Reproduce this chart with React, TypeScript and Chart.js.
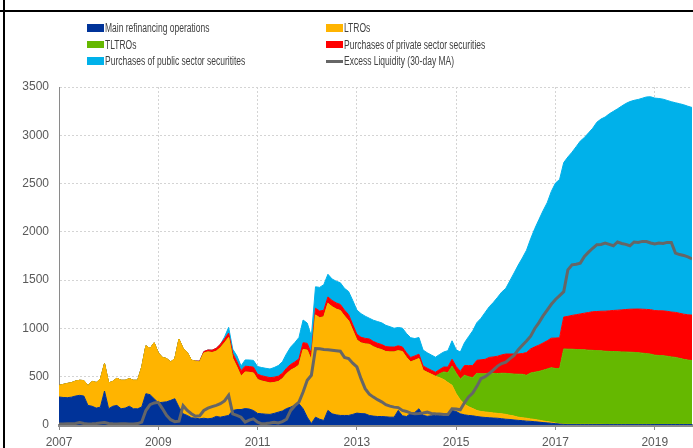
import React, { useEffect, useRef } from 'react';
import { Chart, registerables } from 'chart.js';

Chart.register(...registerables);

// Monthly observations, Jan 2007 .. Oct 2019 (EUR bn)
const YEARS = [2007, 2008, 2009, 2010, 2011, 2012, 2013, 2014, 2015, 2016, 2017, 2018, 2019];
const MONTHS = [0, 1, 2, 3, 4, 5, 6, 7, 8, 9, 10, 11];
const TICK_YEARS = [2007, 2009, 2011, 2013, 2015, 2017, 2019];
const Y_TICKS = [0, 500, 1000, 1500, 2000, 2500, 3000, 3500];

const mro = [
  290, 285, 283, 288, 300, 307, 300, 203, 194, 175, 185, 352,
  168, 194, 203, 168, 175, 194, 168, 168, 186, 324, 314, 272,
  230, 235, 240, 255, 272, 185, 116, 99, 75, 70, 64, 70,
  64, 70, 89, 81, 90, 99, 150, 160, 160, 170, 165, 150,
  120, 116, 112, 110, 120, 133, 145, 170, 185, 205, 220, 168,
  81, 15, 81, 60, 47, 151, 116, 105, 99, 99, 99, 110,
  123, 118, 116, 99, 92, 88, 88, 85, 81, 81, 151, 95,
  88, 120, 130, 168, 100, 90, 95, 99, 99, 99, 120, 151,
  140, 116, 105, 99, 95, 88, 82, 78, 75, 72, 70, 65,
  60, 57, 52, 48, 45, 40, 38, 34, 30, 25, 22, 18,
  14, 10, 6, 4, 4, 4, 4, 4, 4, 4, 4, 4,
  4, 4, 4, 4, 4, 4, 4, 4, 4, 4, 4, 4,
  5, 5, 5, 5, 5, 5, 5, 5, 5, 5,
];

const ltro = [
  120, 135, 147, 150, 155, 156, 160, 204, 258, 265, 290, 284,
  267, 258, 281, 295, 288, 286, 295, 295, 415, 496, 478, 579,
  517, 465, 448, 398, 416, 704, 676, 652, 596, 590, 589, 675,
  693, 680, 675, 719, 760, 808, 540, 441, 344, 379, 380, 389,
  350, 339, 333, 325, 320, 317, 335, 360, 382, 385, 400, 614,
  694, 656, 1058, 1050, 1073, 1109, 1109, 1095, 1086, 1029, 981, 870,
  757, 732, 724, 736, 718, 704, 692, 675, 676, 676, 619, 665,
  612, 533, 540, 520, 467, 455, 430, 405, 391, 371, 320, 260,
  184, 144, 110, 91, 75, 62, 58, 57, 55, 53, 50, 51,
  50, 43, 40, 33, 30, 30, 25, 23, 20, 17, 13, 11,
  6, 2, 2, 3, 3, 3, 3, 3, 3, 3, 3, 3,
  2, 2, 2, 2, 2, 2, 2, 2, 2, 2, 2, 2,
  1, 1, 1, 1, 1, 1, 1, 1, 1, 1,
];

const tltro = [
  0, 0, 0, 0, 0, 0, 0, 0, 0, 0, 0, 0,
  0, 0, 0, 0, 0, 0, 0, 0, 0, 0, 0, 0,
  0, 0, 0, 0, 0, 0, 0, 0, 0, 0, 0, 0,
  0, 0, 0, 0, 0, 0, 0, 0, 0, 0, 0, 0,
  0, 0, 0, 0, 0, 0, 0, 0, 0, 0, 0, 0,
  0, 0, 0, 0, 0, 0, 0, 0, 0, 0, 0, 0,
  0, 0, 0, 0, 0, 0, 0, 0, 0, 0, 0, 0,
  0, 0, 0, 0, 0, 0, 0, 0, 40, 80, 100, 200,
  212, 215, 300, 310, 320, 385, 390, 395, 410, 410, 412, 420,
  425, 430, 435, 445, 450, 445, 475, 490, 505, 525, 545, 565,
  565, 572, 780, 778, 778, 775, 773, 771, 768, 766, 763, 761,
  758, 756, 755, 753, 751, 750, 748, 746, 743, 738, 733, 728,
  717, 714, 712, 706, 699, 694, 684, 674, 666, 662,
];

const privateSec = [
  0, 0, 0, 0, 0, 0, 0, 0, 0, 0, 0, 0,
  0, 0, 0, 0, 0, 0, 0, 0, 0, 0, 0, 0,
  0, 0, 0, 0, 0, 0, 0, 0, 0, 3, 8, 15,
  20, 25, 30, 35, 40, 45, 50, 55, 58, 60, 60, 60,
  55, 55, 55, 55, 55, 55, 55, 58, 60, 63, 66, 70,
  70, 68, 70, 70, 68, 66, 65, 64, 63, 62, 62, 60,
  60, 58, 57, 56, 55, 54, 53, 52, 51, 50, 50, 48,
  47, 46, 45, 45, 44, 43, 42, 42, 45, 50, 60, 70,
  70, 80, 100, 115, 125, 135, 145, 150, 160, 170, 180, 190,
  200, 205, 208, 210, 215, 235, 250, 262, 272, 282, 292, 305,
  315, 320, 330, 340, 350, 360, 370, 380, 390, 400, 405, 410,
  415, 420, 425, 430, 435, 440, 445, 448, 452, 455, 458, 460,
  462, 463, 464, 465, 465, 466, 467, 468, 469, 470,
];

const publicSec = [
  0, 0, 0, 0, 0, 0, 0, 0, 0, 0, 0, 0,
  0, 0, 0, 0, 0, 0, 0, 0, 0, 0, 0, 0,
  0, 0, 0, 0, 0, 0, 0, 0, 0, 0, 0, 0,
  0, 0, 0, 0, 20, 59, 45, 60, 50, 65, 68, 70,
  80, 85, 87, 90, 100, 110, 120, 150, 180, 200, 220, 235,
  210, 180, 222, 245, 265, 235, 222, 225, 225, 225, 240, 250,
  250, 245, 230, 215, 220, 225, 225, 220, 210, 195, 190, 195,
  200, 205, 180, 173, 165, 160, 158, 156, 156, 156, 170, 191,
  173, 200, 236, 300, 360, 390, 430, 486, 525, 565, 610, 650,
  680, 760, 840, 920, 990, 1060, 1140, 1225, 1300, 1370, 1430, 1520,
  1605, 1639, 1600, 1650, 1690, 1740, 1790, 1820, 1860, 1900, 1960, 1990,
  2010, 2040, 2062, 2085, 2110, 2133, 2150, 2162, 2170, 2185, 2200, 2205,
  2200, 2198, 2192, 2184, 2178, 2171, 2170, 2168, 2160, 2150,
];

const excessLiquidity = [
  10, 10, 12, 12, 15, 25, 15, 10, 12, 15, 20, 25,
  15, 12, 10, 12, 12, 10, 10, 15, 30, 150, 210, 228,
  235, 170, 100, 55, 35, 40, 200, 150, 116, 90, 95, 150,
  175, 190, 203, 220, 250, 307, 116, 100, 81, 29, 50, 64,
  29, 12, 15, 20, 29, 22, 35, 60, 151, 200, 237, 341,
  463, 515, 792, 790, 782, 780, 775, 770, 764, 700, 688, 640,
  601, 480, 376, 320, 289, 262, 240, 210, 195, 185, 180, 151,
  140, 123, 116, 120, 125, 133, 120, 116, 113, 110, 110, 168,
  165, 158, 230, 290, 330, 400, 480, 500, 532, 570, 610, 636,
  650, 688, 720, 780, 826, 870, 920, 1000, 1060, 1130, 1190, 1250,
  1300, 1340, 1381, 1607, 1659, 1665, 1676, 1745, 1790, 1830, 1867, 1870,
  1884, 1870, 1856, 1895, 1880, 1870, 1856, 1895, 1890, 1901, 1900, 1885,
  1874, 1884, 1880, 1891, 1891, 1780, 1765, 1756, 1740, 1721,
];

const SERIES = [
  { label: 'Main refinancing operations', data: mro, color: '#003399' },
  { label: 'LTROs', data: ltro, color: '#FFB400' },
  { label: 'TLTROs', data: tltro, color: '#65B800' },
  { label: 'Purchases of private sector securities', data: privateSec, color: '#FF0000' },
  { label: 'Purchases of public sector securitites', data: publicSec, color: '#00B1EA' },
];
const LINE_LABEL = 'Excess Liquidity (30-day MA)';
const LINE_COLOR = '#666666';

const TICK_FONT = { family: "'Liberation Sans', Arial, sans-serif", size: 12 };
const TICK_COLOR = '#595959';
const GRID_COLOR = '#d4d4d4';
const AXIS_COLOR = '#8a8a8a';

const LEGEND_ITEMS = [
  { label: SERIES[0].label, color: SERIES[0].color, col: 0, row: 0, line: false },
  { label: SERIES[1].label, color: SERIES[1].color, col: 1, row: 0, line: false },
  { label: SERIES[2].label, color: SERIES[2].color, col: 0, row: 1, line: false },
  { label: SERIES[3].label, color: SERIES[3].color, col: 1, row: 1, line: false },
  { label: SERIES[4].label, color: SERIES[4].color, col: 0, row: 2, line: false },
  { label: LINE_LABEL, color: LINE_COLOR, col: 1, row: 2, line: true },
];

export default function App() {
  const ref = useRef<HTMLCanvasElement>(null);

  useEffect(() => {
    document.body.style.margin = '0';
    const canvas = ref.current;
    if (!canvas) return;
    const labels: number[] = [];
    YEARS.forEach((y) => MONTHS.forEach((m) => labels.push(y + m / 12)));
    labels.length = mro.length;

    const datasets: any[] = SERIES.map((s, i) => ({
      type: 'line',
      label: s.label,
      data: s.data,
      backgroundColor: s.color,
      borderColor: s.color,
      borderWidth: 1,
      pointRadius: 0,
      tension: 0,
      fill: i === 0 ? 'origin' : '-1',
      stack: 'ops',
      order: 1,
    }));
    datasets.push({
      type: 'line',
      label: LINE_LABEL,
      data: excessLiquidity,
      borderColor: LINE_COLOR,
      backgroundColor: LINE_COLOR,
      borderWidth: 3,
      pointRadius: 0,
      tension: 0,
      fill: false,
      stack: 'el',
      order: 0,
    });

    const chart = new Chart(canvas, {
      type: 'line',
      data: { labels, datasets },
      options: {
        animation: false,
        responsive: false,
        events: [],
        layout: { padding: { top: 87, right: 1, left: 0, bottom: 0 } },
        plugins: { legend: { display: false }, tooltip: { enabled: false } },
        scales: {
          x: {
            type: 'linear',
            min: 2007,
            max: labels[labels.length - 1],
            afterBuildTicks: (scale: any) => {
              scale.ticks = TICK_YEARS.map((v) => ({ value: v }));
            },
            afterFit: (scale: any) => {
              scale.height = 23;
            },
            ticks: {
              callback: (v: any) => String(v),
              color: TICK_COLOR,
              font: TICK_FONT,
              padding: 5,
              maxRotation: 0,
              autoSkip: false,
            },
            grid: {
              color: GRID_COLOR,
              lineWidth: 1,
              drawTicks: true,
              tickLength: 5,
              tickColor: AXIS_COLOR,
              tickWidth: 1,
              tickBorderDash: [],
            },
            border: { display: true, color: AXIS_COLOR, width: 3, dash: [2, 2] },
          },
          y: {
            type: 'linear',
            stacked: true,
            min: 0,
            max: 3500,
            afterBuildTicks: (scale: any) => {
              scale.ticks = Y_TICKS.map((v) => ({ value: v }));
            },
            afterFit: (scale: any) => {
              scale.width = 59;
            },
            ticks: {
              callback: (v: any) => String(v),
              color: TICK_COLOR,
              font: TICK_FONT,
              padding: 10,
            },
            grid: { color: GRID_COLOR, lineWidth: 1, drawTicks: false },
            border: { display: true, color: AXIS_COLOR, width: 1, dash: [2, 2] },
          },
        },
      },
    });
    return () => chart.destroy();
  }, []);

  const legendFont = "'Liberation Sans', Arial, sans-serif";
  const rowY = [28, 44.5, 61];
  const colX = [87, 326];

  return (
    <div style={{ position: 'fixed', left: 0, top: 0, width: 693, height: 448, background: '#ffffff', overflow: 'hidden' }}>
      <canvas ref={ref} width={693} height={448} style={{ position: 'absolute', left: 0, top: 0, width: 693, height: 448 }} />
      <div style={{ position: 'absolute', left: 3, top: 0, width: 2, height: 448, background: '#000' }} />
      <div style={{ position: 'absolute', left: 0, top: 9.5, width: 693, height: 2, background: '#000' }} />
      {LEGEND_ITEMS.map((it) => (
        <div key={it.label} style={{ position: 'absolute', left: colX[it.col], top: rowY[it.row] - 8, height: 16, display: 'flex', alignItems: 'center', whiteSpace: 'nowrap' }}>
          <div style={{ width: 17, height: it.line ? 3 : 7.5, background: it.color, marginRight: 1, flex: 'none' }} />
          <span style={{ fontFamily: legendFont, fontSize: 12.5, color: '#404040', display: 'inline-block', transform: 'scaleX(0.68)', transformOrigin: 'left center', lineHeight: '16px' }}>{it.label}</span>
        </div>
      ))}
    </div>
  );
}
